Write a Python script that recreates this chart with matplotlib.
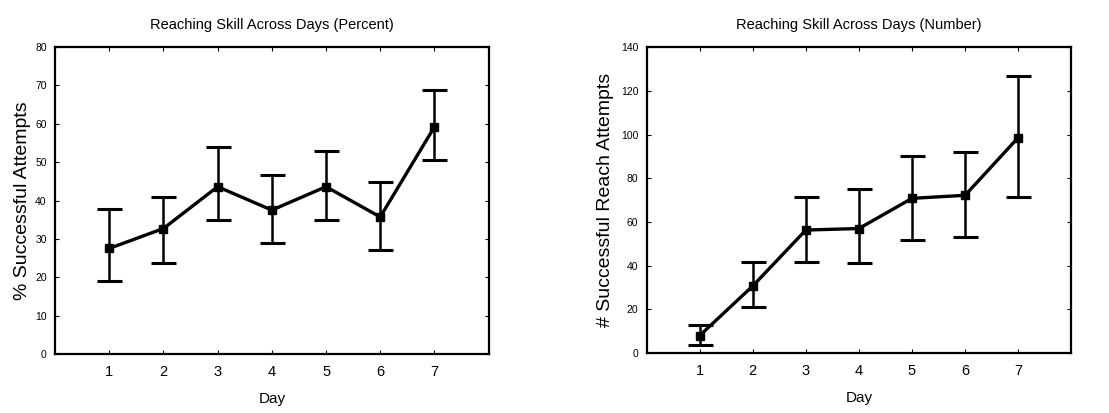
import matplotlib.pyplot as plt
import numpy as np

# Reaching skill across days, percent and count panels
days = [1, 2, 3, 4, 5, 6, 7]

pct_mean = [27.5, 32.7, 43.6, 37.5, 43.6, 35.7, 59.2]
pct_low = [18.9, 23.8, 34.9, 28.8, 34.9, 27.0, 50.6]
pct_high = [37.8, 40.9, 53.9, 46.7, 52.9, 44.8, 68.9]

num_mean = [8.0, 30.7, 56.3, 57.0, 70.8, 72.2, 98.6]
num_low = [3.8, 21.3, 41.7, 41.1, 51.7, 53.0, 71.5]
num_high = [12.9, 41.9, 71.2, 74.9, 90.4, 92.2, 126.6]

plt.rcParams['font.family'] = ['Liberation Sans', 'DejaVu Sans']


def draw_panel(ax, mean, low, high, ymax, ystep, title, ylabel, ypad):
    mean = np.array(mean)
    err = [mean - np.array(low), np.array(high) - mean]
    ax.errorbar(days, mean, yerr=err, color='black', lw=2.4, marker='s',
                markersize=6, capsize=9, capthick=2.2, elinewidth=1.8)
    ax.set_xlim(0, 8)
    ax.set_ylim(0, ymax)
    ax.set_xticks(days)
    ax.set_yticks(np.arange(0, ymax + 1, ystep))
    ax.tick_params(axis='y', labelsize=7.5, direction='in', length=3,
                   right=True, pad=6)
    ax.tick_params(axis='x', labelsize=10.5, direction='in', length=3,
                   top=True, pad=8)
    for s in ax.spines.values():
        s.set_linewidth(1.6)
    ax.set_title(title, fontsize=10.5, pad=13)
    ax.set_xlabel('Day', fontsize=11, labelpad=9)
    ax.set_ylabel(ylabel, fontsize=14, labelpad=ypad)


fig = plt.figure(figsize=(11.09, 4.13), dpi=100)
ax1 = fig.add_axes([0.0496, 0.143, 0.391, 0.743])
ax2 = fig.add_axes([0.583, 0.145, 0.383, 0.741])

draw_panel(ax1, pct_mean, pct_low, pct_high, 80, 10,
           'Reaching Skill Across Days (Percent)', '% Successful Attempts', 3)
draw_panel(ax2, num_mean, num_low, num_high, 140, 20,
           'Reaching Skill Across Days (Number)', '# Successful Reach Attempts', 5)

fig.savefig('out.png', dpi=100)
